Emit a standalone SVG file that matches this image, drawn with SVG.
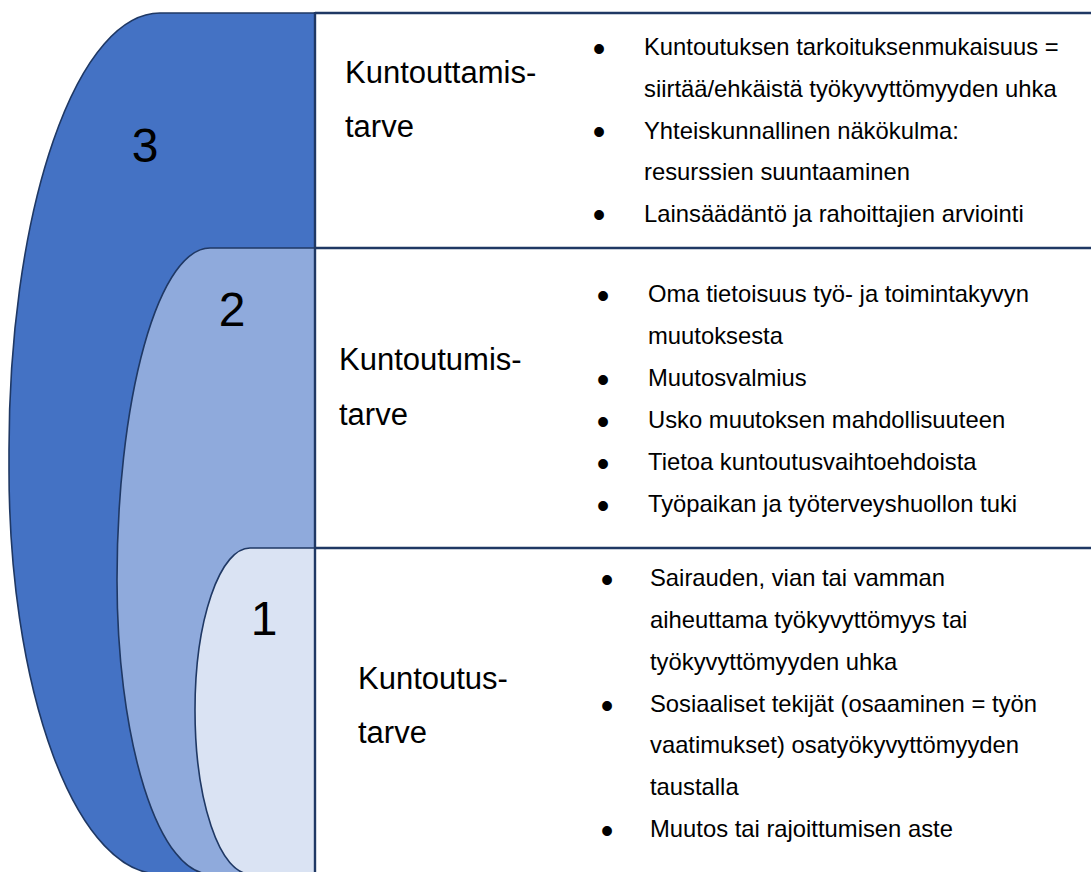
<svg xmlns="http://www.w3.org/2000/svg" width="1091" height="872" viewBox="0 0 1091 872">
<style>
.shape{stroke:#1F3864;stroke-width:1.6}
.ln{stroke:#1F3864;stroke-width:2.4;fill:none}
.num{font-family:"Liberation Sans",Arial,sans-serif;font-size:48px;fill:#000;text-anchor:middle}
.lbl{font-family:"Liberation Sans",Arial,sans-serif;font-size:31px;fill:#000}
.t{font-family:"Liberation Sans",Arial,sans-serif;font-size:23.8px;fill:#000}
.b{font-family:"Liberation Sans",Arial,sans-serif;font-size:36px;fill:#000;text-anchor:middle}
</style>
<rect width="1091" height="872" fill="#fff"/>
<g id="level3">
<path class="shape" fill="#4472C4" d="M315,13 H160 A151 437 0 0 0 9 450 V470 A151 404 0 0 0 160 874 H315 Z"/>
<text class="num" x="145" y="162">3</text>
</g>
<g id="level2">
<path class="shape" fill="#8FAADC" d="M315,248 H210 A93 332 0 0 0 117 580 A93 294 0 0 0 210 874 H315 Z"/>
<text class="num" x="232" y="326">2</text>
</g>
<g id="level1">
<path class="shape" fill="#DAE3F3" d="M315,548 H250 A55 162 0 0 0 195 710 A55 164 0 0 0 250 874 H315 Z"/>
<text class="num" x="264" y="635">1</text>
</g>
<g id="connectors">
<line class="ln" x1="315" y1="13" x2="1091" y2="13"/>
<line class="ln" x1="315" y1="248" x2="1091" y2="248"/>
<line class="ln" x1="315" y1="548" x2="1091" y2="548"/>
<line class="ln" x1="315" y1="12" x2="315" y2="872"/>
</g>
<g id="panel3">
<text class="lbl" x="345" y="83">Kuntouttamis-</text>
<text class="lbl" x="345" y="137">tarve</text>
<text class="b" x="599" y="61">•</text>
<text class="b" x="599" y="144">•</text>
<text class="b" x="599" y="227">•</text>
<text class="t" x="644" y="55">Kuntoutuksen tarkoituksenmukaisuus =</text>
<text class="t" x="644" y="97">siirtää/ehkäistä työkyvyttömyyden uhka</text>
<text class="t" x="644" y="139">Yhteiskunnallinen näkökulma:</text>
<text class="t" x="644" y="180">resurssien suuntaaminen</text>
<text class="t" x="644" y="222">Lainsäädäntö ja rahoittajien arviointi</text>
</g>
<g id="panel2">
<text class="lbl" x="339" y="370">Kuntoutumis-</text>
<text class="lbl" x="339" y="425">tarve</text>
<text class="b" x="603" y="308">•</text>
<text class="b" x="603" y="392">•</text>
<text class="b" x="603" y="434">•</text>
<text class="b" x="603" y="476">•</text>
<text class="b" x="603" y="518">•</text>
<text class="t" x="648" y="302">Oma tietoisuus työ- ja toimintakyvyn</text>
<text class="t" x="648" y="344">muutoksesta</text>
<text class="t" x="648" y="386">Muutosvalmius</text>
<text class="t" x="648" y="428">Usko muutoksen mahdollisuuteen</text>
<text class="t" x="648" y="470">Tietoa kuntoutusvaihtoehdoista</text>
<text class="t" x="648" y="512">Työpaikan ja työterveyshuollon tuki</text>
</g>
<g id="panel1">
<text class="lbl" x="358" y="689">Kuntoutus-</text>
<text class="lbl" x="358" y="743">tarve</text>
<text class="b" x="607" y="592">•</text>
<text class="b" x="607" y="718">•</text>
<text class="b" x="607" y="843">•</text>
<text class="t" x="650" y="586">Sairauden, vian tai vamman</text>
<text class="t" x="650" y="628">aiheuttama työkyvyttömyys tai</text>
<text class="t" x="650" y="670">työkyvyttömyyden uhka</text>
<text class="t" x="650" y="712">Sosiaaliset tekijät (osaaminen = työn</text>
<text class="t" x="650" y="753">vaatimukset) osatyökyvyttömyyden</text>
<text class="t" x="650" y="795">taustalla</text>
<text class="t" x="650" y="837">Muutos tai rajoittumisen aste</text>
</g>
</svg>
